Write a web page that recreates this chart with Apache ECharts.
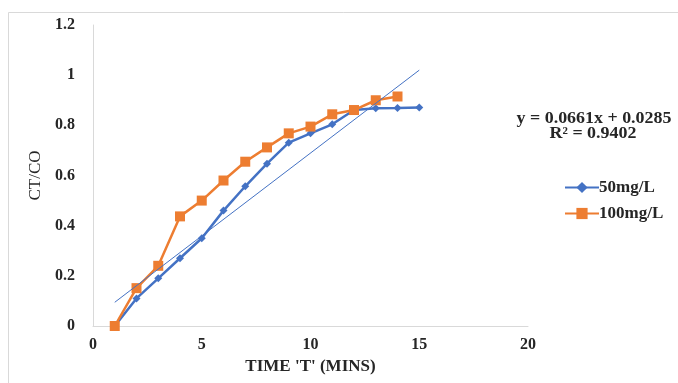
<!DOCTYPE html>
<html>
<head>
<meta charset="utf-8">
<script src="https://cdn.jsdelivr.net/npm/echarts@6/dist/echarts.min.js"></script>
<style>html,body{margin:0;padding:0;background:#fff}#c{width:678px;height:383px}</style>
</head>
<body>
<div id="c"></div>
<script>
const times50 = [1, 2, 3, 4, 5, 6, 7, 8, 9, 10, 11, 12, 13, 14, 15];
const c50 = [0, 0.11, 0.19, 0.27, 0.35, 0.46, 0.557, 0.647, 0.731, 0.768, 0.804, 0.861, 0.868, 0.869, 0.871];
const times100 = [1, 2, 3, 4, 5, 6, 7, 8, 9, 10, 11, 12, 13, 14];
const c100 = [0, 0.151, 0.24, 0.437, 0.50, 0.58, 0.655, 0.712, 0.768, 0.795, 0.844, 0.861, 0.90, 0.915];
const seriesNames = ['50mg/L', '100mg/L'];
const trendSlope = 0.0661;
const trendIntercept = 0.0285;
const trendR2 = 0.9402;
const trendRange = [1, 15];
const xTicks = [0, 5, 10, 15, 20];
const yTicks = [0, 0.2, 0.4, 0.6, 0.8, 1, 1.2];

const font = '"Liberation Serif", "Times New Roman", serif';
const chart = echarts.init(document.getElementById('c'));
chart.setOption({
  animation: false,
  backgroundColor: '#fff',
  grid: { left: 93, right: 150, top: 25, bottom: 57 },
  xAxis: {
    type: 'value', min: xTicks[0], max: xTicks[xTicks.length - 1], interval: 5,
    name: "TIME 'T' (MINS)", nameLocation: 'middle', nameGap: 30,
    nameTextStyle: { fontFamily: font, fontWeight: 'bold', fontSize: 17, color: '#262626' },
    axisLine: { show: true, lineStyle: { color: '#d9d9d9', width: 1 } },
    axisTick: { show: false }, splitLine: { show: false },
    axisLabel: { fontFamily: font, fontWeight: 'bold', fontSize: 16, color: '#262626', margin: 11 }
  },
  yAxis: {
    type: 'value', min: yTicks[0], max: yTicks[yTicks.length - 1], interval: 0.2,
    name: 'CT/CO', nameLocation: 'middle', nameGap: 43, nameRotate: 90,
    nameTextStyle: { fontFamily: font, fontWeight: 'normal', fontSize: 17, color: '#262626' },
    axisLine: { show: true, lineStyle: { color: '#d9d9d9', width: 1 } },
    axisTick: { show: false }, splitLine: { show: false },
    axisLabel: { fontFamily: font, fontWeight: 'bold', fontSize: 16, color: '#262626', margin: 18 }
  },
  legend: {
    data: seriesNames, orient: 'vertical', left: 559, top: 174, itemGap: 9,
    itemWidth: 34, itemHeight: 14,
    textStyle: { fontFamily: font, fontWeight: 'bold', fontSize: 17, color: '#262626', padding: [0, 0, 0, -5] }
  },
  series: [
    {
      name: seriesNames[0], type: 'line', data: times50.map((t, i) => [t, c50[i]]),
      symbol: 'diamond', symbolSize: 8,
      lineStyle: { color: '#4472C4', width: 2.5 }, itemStyle: { color: '#4472C4' }, z: 3
    },
    {
      name: seriesNames[1], type: 'line', data: times100.map((t, i) => [t, c100[i]]),
      symbol: 'rect', symbolSize: 10,
      lineStyle: { color: '#ED7D31', width: 2.5 }, itemStyle: { color: '#ED7D31' }, z: 4
    },
    {
      name: 'trend', type: 'line', data: trendRange.map(x => [x, trendSlope * x + trendIntercept]),
      symbol: 'none', lineStyle: { color: '#4472C4', width: 1 }, z: 5, silent: true
    }
  ],
  graphic: [
    { type: 'rect', shape: { x: 8.5, y: 12.5, width: 680, height: 380 }, style: { fill: 'none', stroke: '#d9d9d9', lineWidth: 1 }, silent: true },
    { type: 'text', x: 594, y: 119, scaleX: 1.12, style: { text: 'y = ' + trendSlope + 'x + ' + trendIntercept, font: 'bold 16px ' + font, fill: '#262626', align: 'center', verticalAlign: 'middle' } },
    { type: 'text', x: 593, y: 134, scaleX: 1.12, style: { text: 'R² = ' + trendR2, font: 'bold 16px ' + font, fill: '#262626', align: 'center', verticalAlign: 'middle' } }
  ]
});
</script>
</body>
</html>
